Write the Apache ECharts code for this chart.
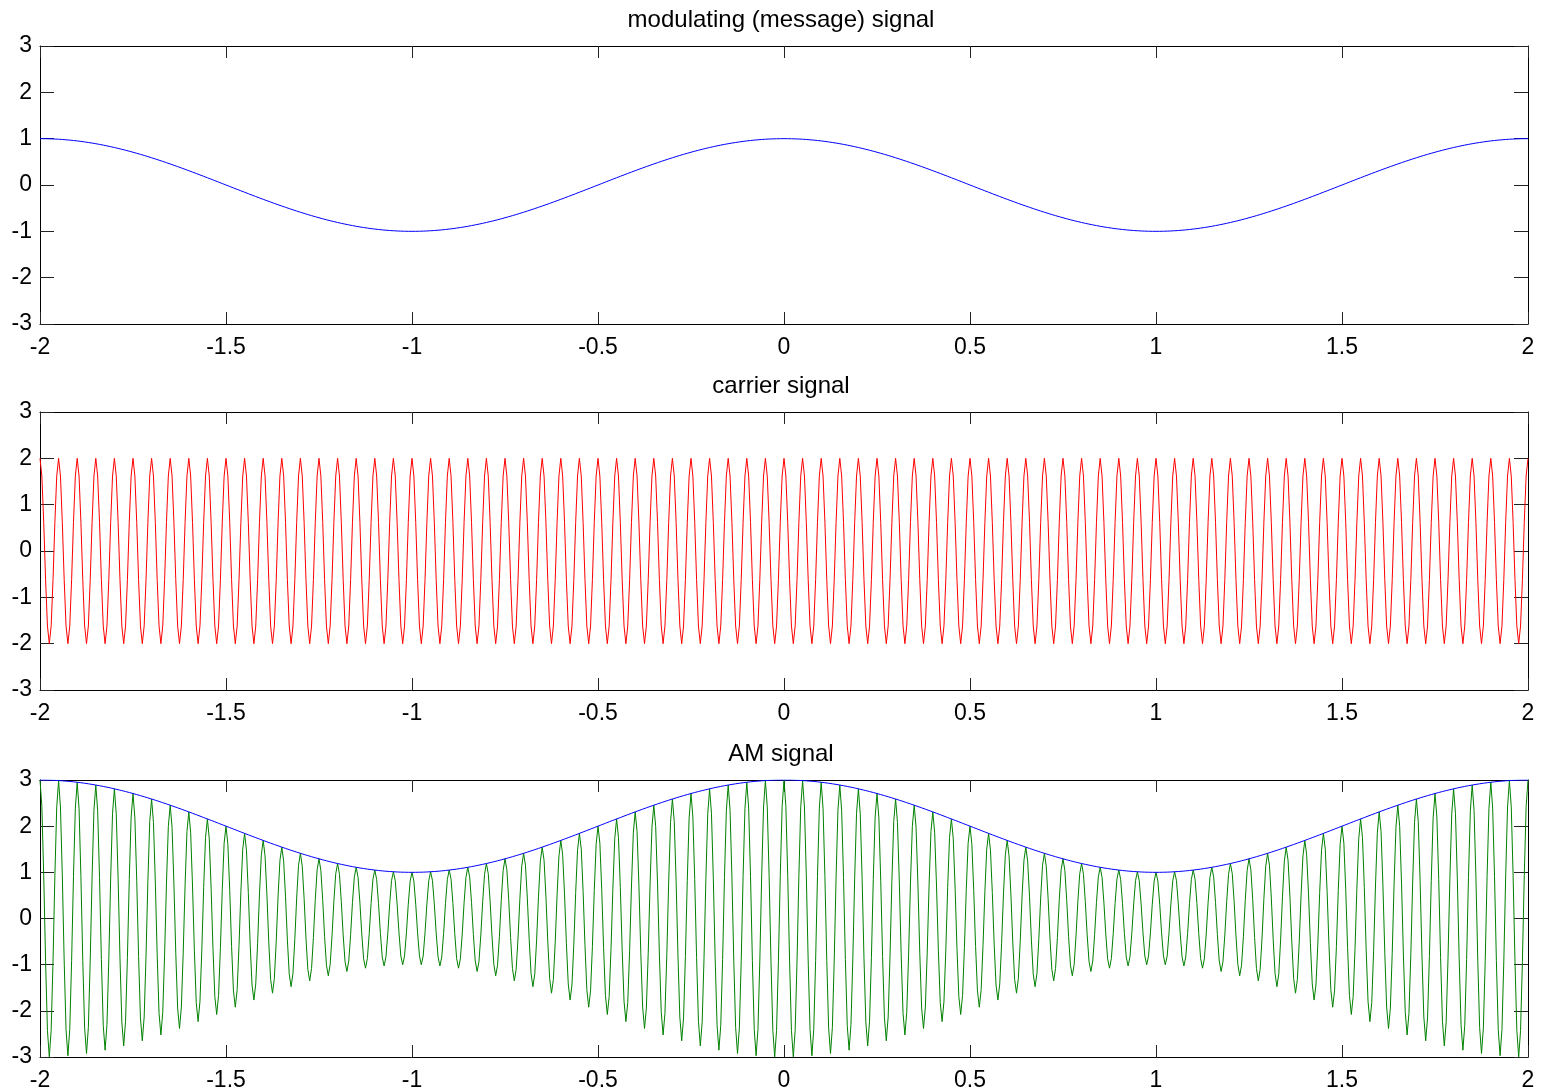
<!DOCTYPE html>
<html>
<head>
<meta charset="utf-8">
<title>AM modulation</title>
<script src="https://cdn.jsdelivr.net/npm/echarts@6/dist/echarts.min.js"></script>
<style>
  html, body { margin: 0; padding: 0; background: #fff; }
  #chart { width: 1545px; height: 1092px; }
</style>
</head>
<body>
<div id="chart"></div>
<script>
// Panel titles
const panelTitles = ['modulating (message) signal', 'carrier signal', 'AM signal'];

// Axis ranges and tick steps
const xRange = [-2, 2];
const xStep = 0.5;
const yRange = [-3, 3];
const yStep = 1;

// Time base of the sampled signals (seconds)
const tStart = -2;
const tEnd = 2;
const tStep = 0.005;

// Signal parameters
const messageAmp = 1;      // peak of the message
const messageFreq = 0.5;   // Hz
const carrierAmp = 2;      // peak of the carrier
const carrierFreq = 20;    // Hz

// Sampled signals
const tValues = [];
for (let i = 0; tStart + i * tStep <= tEnd + 1e-9; i++) tValues.push(+(tStart + i * tStep).toFixed(6));
const messageValues = tValues.map(t => messageAmp * Math.cos(2 * Math.PI * messageFreq * t));
const carrierValues = tValues.map(t => carrierAmp * Math.cos(2 * Math.PI * carrierFreq * t));
const envelopeValues = messageValues.map(m => carrierAmp + m);
const amValues = tValues.map((t, i) => envelopeValues[i] * Math.cos(2 * Math.PI * carrierFreq * t));

const pairs = vals => tValues.map((t, i) => [t, vals[i]]);

const FONT = 'Liberation Sans, Arial, sans-serif';
const FS = 23;
const gridTops = [46, 412, 780];
const gridH = 278;

const grids = [], xAxes = [], yAxes = [], titleTexts = [];
gridTops.forEach((top, g) => {
  grids.push({ left: 40, width: 1488, top: top, height: gridH, containLabel: false });
  titleTexts.push({
    type: 'text', x: 781, y: top - 26, silent: true,
    style: { text: panelTitles[g], fill: '#000', font: '24px ' + FONT,
             textAlign: 'center', textVerticalAlign: 'middle' }
  });
  const xBase = {
    type: 'value', gridIndex: g, min: xRange[0], max: xRange[1], interval: xStep,
    splitLine: { show: false },
    axisLine: { show: true, onZero: false, lineStyle: { color: '#000', width: 1 } },
    axisTick: { show: true, inside: true, length: 12, lineStyle: { color: '#222', width: 1 } }
  };
  xAxes.push(Object.assign({}, xBase, {
    position: 'bottom',
    axisLabel: { show: true, margin: 12, color: '#000', fontFamily: FONT, fontSize: FS,
                 showMinLabel: true, showMaxLabel: true }
  }));
  xAxes.push(Object.assign({}, xBase, { position: 'top', axisLabel: { show: false } }));
  const yBase = {
    type: 'value', gridIndex: g, min: yRange[0], max: yRange[1], interval: yStep,
    splitLine: { show: false },
    axisLine: { show: true, onZero: false, lineStyle: { color: '#000', width: 1 } },
    axisTick: { show: true, inside: true, length: 14, lineStyle: { color: '#222', width: 1 } }
  };
  yAxes.push(Object.assign({}, yBase, {
    position: 'left',
    axisLabel: { show: true, margin: 8, color: '#000', fontFamily: FONT, fontSize: FS,
                 showMinLabel: true, showMaxLabel: true }
  }));
  yAxes.push(Object.assign({}, yBase, { position: 'right', axisLabel: { show: false } }));
});

const line = (g, data, color) => ({
  type: 'line', xAxisIndex: g * 2, yAxisIndex: g * 2, data: data,
  showSymbol: false, symbol: 'none', smooth: false, clip: true,
  lineStyle: { color: color, width: 1 }, emphasis: { disabled: true }
});

const option = {
  animation: false,
  backgroundColor: '#fff',
  graphic: titleTexts,
  grid: grids,
  xAxis: xAxes,
  yAxis: yAxes,
  series: [
    line(0, pairs(messageValues), '#0000ff'),
    line(1, pairs(carrierValues), '#ff0000'),
    line(2, pairs(amValues), '#008000'),
    line(2, pairs(envelopeValues), '#0000ff')
  ]
};

const chart = echarts.init(document.getElementById('chart'), null, { renderer: 'canvas' });
chart.setOption(option);
</script>
</body>
</html>
